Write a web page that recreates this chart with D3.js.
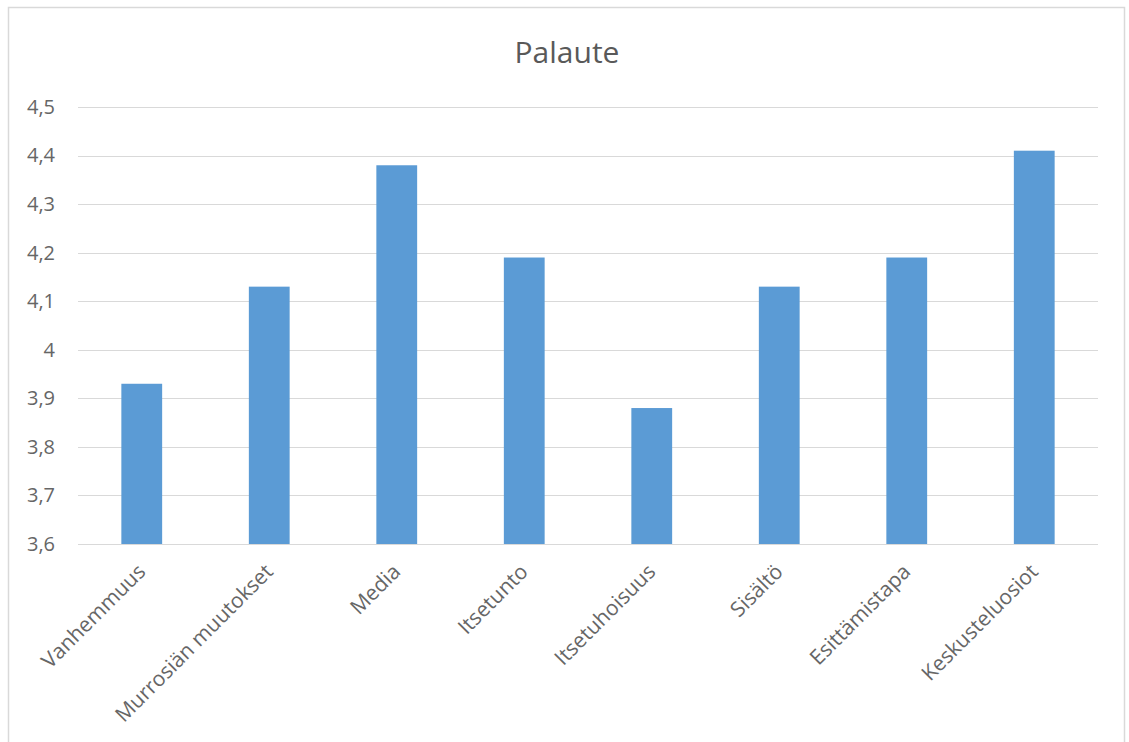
<!DOCTYPE html>
<html>
<head>
<meta charset="utf-8">
<script src="https://cdn.jsdelivr.net/npm/d3@7"></script>
<style>
  body { margin: 0; background: #fff; }
  svg { font-family: "Open Sans", sans-serif; }
</style>
</head>
<body>
<div id="chart"></div>
<script>
// data
var categories = ["Vanhemmuus", "Murrosiän muutokset", "Media", "Itsetunto", "Itsetuhoisuus", "Sisältö", "Esittämistapa", "Keskusteluosiot"];
var values = [3.93, 4.13, 4.38, 4.19, 3.88, 4.13, 4.19, 4.41];
var yTicks = [3.6, 3.7, 3.8, 3.9, 4.0, 4.1, 4.2, 4.3, 4.4, 4.5];
var chartTitle = "Palaute";

var W = 1129, H = 742;
var margin = { top: 107, right: 31, bottom: 198, left: 78 };
var width = W - margin.left - margin.right;
var height = H - margin.top - margin.bottom;

var root = d3.select("#chart").append("svg")
  .attr("width", W)
  .attr("height", H);

// chart border
root.append("rect")
  .attr("x", 8.5).attr("y", 7.5)
  .attr("width", 1116).attr("height", 745)
  .attr("fill", "#fff")
  .attr("stroke", "#d9d9d9")
  .attr("stroke-width", 1.5);

// title
root.append("text")
  .attr("x", 567).attr("y", 63)
  .attr("text-anchor", "middle")
  .style("font-size", "30px")
  .style("fill", "#595959")
  .text(chartTitle);

var svg = root.append("g")
  .attr("transform", "translate(" + margin.left + "," + margin.top + ")");

var x = d3.scaleBand().domain(categories).range([0, width]).paddingInner(0.68).paddingOuter(0.34);
var y = d3.scaleLinear().domain([3.6, 4.5]).range([height, 0]);

var fmt = function(d) { return d3.format(".1f")(d).replace(".0", "").replace(".", ","); };

// gridlines
svg.selectAll("line.grid")
  .data(yTicks)
  .enter()
  .append("line")
  .attr("class", "grid")
  .attr("x1", 0).attr("x2", width)
  .attr("y1", function(d) { return Math.round(y(d)) + 0.5; })
  .attr("y2", function(d) { return Math.round(y(d)) + 0.5; })
  .attr("stroke", "#d9d9d9")
  .attr("stroke-width", 1);

// y axis labels
var yAxis = d3.axisLeft(y).tickValues(yTicks).tickFormat(fmt).tickSize(0).tickPadding(23);
var gy = svg.append("g").call(yAxis);
gy.select(".domain").remove();
gy.selectAll("text")
  .style("font-size", "20px")
  .style("font-family", "Open Sans, sans-serif")
  .attr("fill", "#666");

// bars
svg.selectAll("rect.bar")
  .data(values)
  .enter()
  .append("rect")
  .attr("class", "bar")
  .attr("x", function(d, i) { return x(categories[i]); })
  .attr("width", x.bandwidth())
  .attr("y", function(d) { return y(d); })
  .attr("height", function(d) { return height - y(d); })
  .attr("fill", "#5b9bd5");

// x axis labels, rotated
var xAxis = d3.axisBottom(x).tickSize(0).tickPadding(0);
var gx = svg.append("g")
  .attr("transform", "translate(0," + height + ")")
  .call(xAxis);
gx.select(".domain").remove();
gx.selectAll("text")
  .style("font-size", "21px")
  .style("font-family", "Open Sans, sans-serif")
  .attr("fill", "#666")
  .attr("text-anchor", "end")
  .attr("dy", 0)
  .attr("transform", "translate(5,29) rotate(-45)");
</script>
</body>
</html>
